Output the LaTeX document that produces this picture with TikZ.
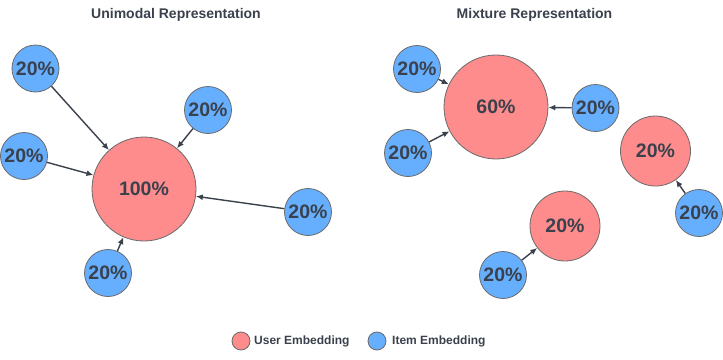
\documentclass[tikz,border=0pt]{standalone}
\usepackage{fontspec}
\setmainfont{Liberation Sans}
\usetikzlibrary{arrows.meta}
\definecolor{txt}{HTML}{3A414C}
\definecolor{ured}{HTML}{FF8C8C}
\definecolor{iblue}{HTML}{66AFFF}
\definecolor{edgec}{HTML}{6A6A6A}
\tikzset{
  emb/.style={circle, draw=edgec, line width=0.8pt, inner sep=0pt, text=txt, font=\fontsize{19.5}{20}\selectfont\bfseries},
  item/.style={emb, fill=iblue, minimum size=47pt},
  user/.style={emb, fill=ured},
  arr/.style={draw=txt, line width=1.4pt, -{Latex[length=7pt,width=6pt]}},
  title/.style={text=txt, font=\fontsize{14}{16}\selectfont\bfseries},
  legtxt/.style={text=txt, font=\fontsize{12}{14}\selectfont\bfseries, anchor=west, inner sep=0pt},
  legdot/.style={circle, draw=edgec, line width=0.8pt, minimum size=18pt, inner sep=0pt}
}
\begin{document}
\begin{tikzpicture}[x=1pt,y=-1pt]
\useasboundingbox (0,0) rectangle (723,359);
% titles
\node[title] (t1) at (176,15) {Unimodal Representation};
\node[title] (t2) at (534.5,15) {Mixture Representation};
% left panel
\node[user, minimum size=104pt] (u1) at (144,189) {100\%};
\node[item] (a) at (35.5,68.5) {20\%};
\node[item] (b) at (208,110) {20\%};
\node[item] (c) at (24,156) {20\%};
\node[item] (d) at (308,212) {20\%};
\node[item] (e) at (108,273) {20\%};
\draw[arr] (a) -- (u1);
\draw[arr] (b) -- (u1);
\draw[arr] (c) -- (u1);
\draw[arr] (d) -- (u1);
\draw[arr] (e) -- (u1);
% right panel
\node[user, minimum size=104pt] (u2) at (496,107) {60\%};
\node[user, minimum size=70pt] (u3) at (655.5,151) {20\%};
\node[user, minimum size=70pt] (u4) at (565,226) {20\%};
\node[item] (f) at (417,69) {20\%};
\node[item] (g) at (595.5,108) {20\%};
\node[item] (h) at (408,153) {20\%};
\node[item] (i) at (699,213) {20\%};
\node[item] (j) at (503,275) {20\%};
\draw[arr] (f) -- (u2);
\draw[arr] (g) -- (u2);
\draw[arr] (h) -- (u2);
\draw[arr] (i) -- (u3);
\draw[arr] (j) -- (u4);
% legend
\node[legdot, fill=ured] (l1) at (241,341) {};
\node[legtxt] (l1t) at (254,341) {User Embedding};
\node[legdot, fill=iblue] (l2) at (377,341) {};
\node[legtxt] (l2t) at (392,341) {Item Embedding};
\end{tikzpicture}
\end{document}
